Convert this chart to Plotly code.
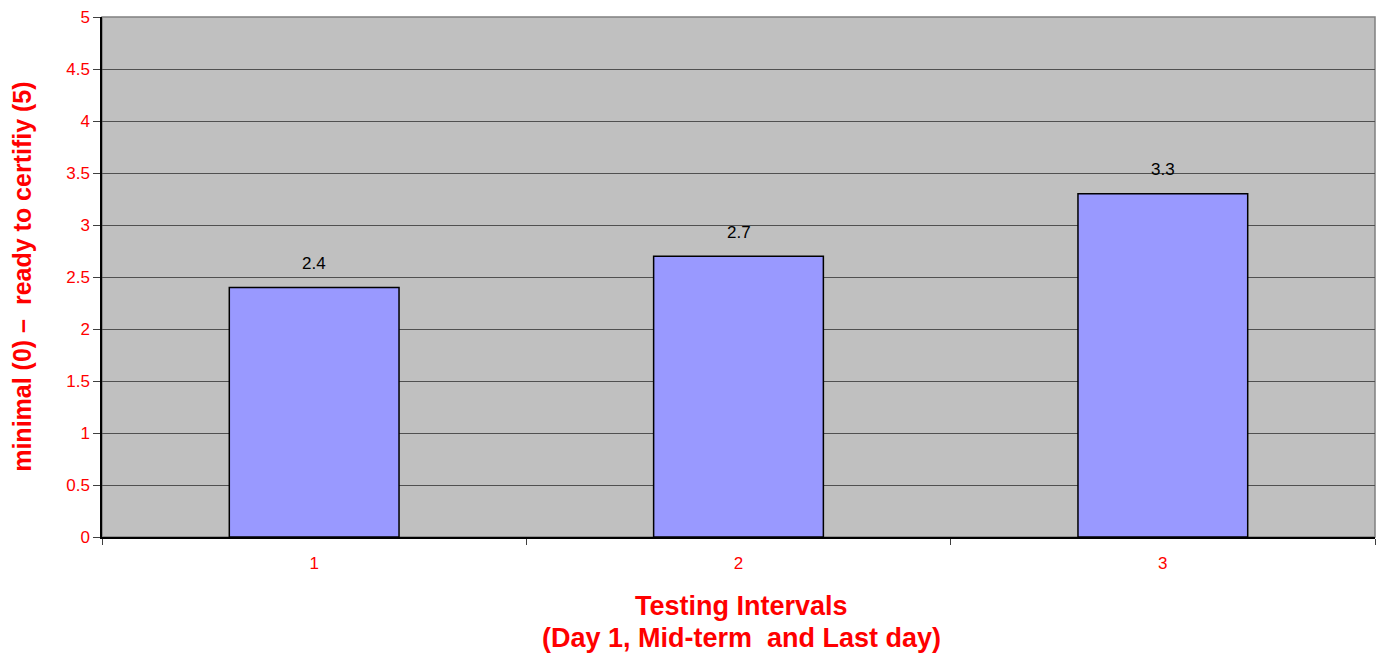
import plotly.graph_objects as go

categories = ["1", "2", "3"]
values = [2.4, 2.7, 3.3]
y_ticks = [0, 0.5, 1, 1.5, 2, 2.5, 3, 3.5, 4, 4.5, 5]
y_tick_labels = ["0", "0.5", "1", "1.5", "2", "2.5", "3", "3.5", "4", "4.5", "5"]
y_title = "minimal (0) \u2013  ready to certifiy (5)"
x_title_1 = "Testing Intervals"
x_title_2 = "(Day 1, Mid-term  and Last day)"

FONT = "Liberation Sans, Arial, sans-serif"
RED = "#FF0000"

fig = go.Figure()
fig.add_trace(go.Bar(
    x=categories, y=values,
    width=0.4,
    marker=dict(color="#9999FF", line=dict(color="#000000", width=1.5)),
    hoverinfo="x+y",
))

annotations = []
for i, v in enumerate(values):
    annotations.append(dict(
        x=i, y=v, xref="x", yref="y", text=str(v), showarrow=False,
        yanchor="middle", yshift=24,
        font=dict(family=FONT, size=17, color="#000000"),
    ))

annotations.append(dict(
    x=-0.063, y=0.5, xref="paper", yref="paper", text=y_title,
    textangle=-90, showarrow=False, xanchor="center", yanchor="middle",
    font=dict(family=FONT, size=25, color=RED, weight="bold"),
))
annotations.append(dict(
    x=0.502, y=(537 - 606) / 520, xref="paper", yref="paper", text=x_title_1,
    showarrow=False, xanchor="center", yanchor="middle",
    font=dict(family=FONT, size=27, color=RED, weight="bold"),
))
annotations.append(dict(
    x=0.502, y=(537 - 638) / 520, xref="paper", yref="paper", text=x_title_2,
    showarrow=False, xanchor="center", yanchor="middle",
    font=dict(family=FONT, size=27, color=RED, weight="bold"),
))

fig.update_layout(
    width=1377, height=653,
    margin=dict(l=102, r=2, t=17, b=116),
    paper_bgcolor="#FFFFFF",
    plot_bgcolor="#C0C0C0",
    showlegend=False,
    annotations=annotations,
    shapes=[dict(type="rect", xref="paper", yref="paper", x0=0, x1=1, y0=0, y1=1,
                 line=dict(color="#808080", width=1.5), layer="below")],
    xaxis=dict(
        type="category",
        tickson="boundaries",
        ticks="outside", ticklen=6, tickcolor="#404040",
        ticklabelstandoff=10,
        showline=True, linecolor="#000000", linewidth=1.5,
        showgrid=False,
        tickfont=dict(family=FONT, size=17, color=RED),
        range=[-0.5, 2.5],
    ),
    yaxis=dict(
        range=[0, 5],
        tickvals=y_ticks, ticktext=y_tick_labels,
        ticks="outside", ticklen=7, tickcolor="#404040",
        showline=True, linecolor="#000000", linewidth=1.5,
        showgrid=True, gridcolor="#505050", gridwidth=1,
        zeroline=False,
        tickfont=dict(family=FONT, size=17, color=RED),
    ),
)

fig.write_html(
    "out.html",
    config={"displayModeBar": False},
    post_script="document.body.style.margin='0';document.body.style.overflow='hidden';",
)
